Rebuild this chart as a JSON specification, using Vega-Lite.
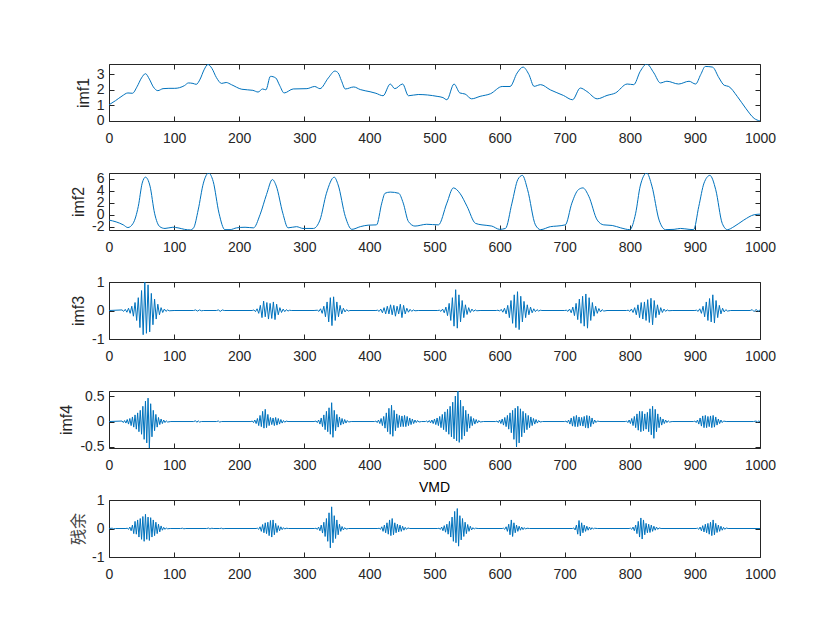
{
"$schema": "https://vega.github.io/schema/vega-lite/v6.json",
"background": "white",
"padding": {"left": 58, "top": 63, "right": 30, "bottom": 10},
"spacing": 52,
"bounds": "flush",
"datasets": {
"imf1": [
{"x":0,"y":1.03},{"x":10,"y":1.3},{"x":20,"y":1.6},{"x":29,"y":1.8},{"x":36,"y":1.78},{"x":43,"y":2.2},{"x":50,"y":2.78},{"x":56,"y":3.05},{"x":62,"y":2.7},{"x":68,"y":2.2},{"x":75,"y":1.95},{"x":83,"y":2.08},{"x":92,"y":2.1},{"x":101,"y":2.1},{"x":116,"y":2.28},{"x":122,"y":2.45},{"x":129,"y":2.42},{"x":134,"y":2.36},{"x":140,"y":2.7},{"x":146,"y":3.3},{"x":152,"y":3.65},{"x":158,"y":3.4},{"x":165,"y":2.8},{"x":173,"y":2.42},{"x":180,"y":2.48},{"x":188,"y":2.34},{"x":204,"y":2.04},{"x":221,"y":1.97},{"x":229,"y":1.86},{"x":236,"y":2.06},{"x":241,"y":2.0},{"x":248,"y":2.88},{"x":256,"y":2.78},{"x":262,"y":2.3},{"x":269,"y":1.8},{"x":283,"y":2.06},{"x":304,"y":2.08},{"x":316,"y":2.22},{"x":324,"y":2.08},{"x":337,"y":2.78},{"x":347,"y":3.22},{"x":352,"y":3.1},{"x":357,"y":2.6},{"x":363,"y":2.06},{"x":376,"y":2.19},{"x":386,"y":2.02},{"x":401,"y":1.88},{"x":410,"y":1.78},{"x":421,"y":1.62},{"x":432,"y":2.38},{"x":439,"y":2.08},{"x":451,"y":2.38},{"x":460,"y":1.62},{"x":475,"y":1.7},{"x":504,"y":1.58},{"x":513,"y":1.5},{"x":519,"y":1.36},{"x":530,"y":2.38},{"x":539,"y":1.8},{"x":547,"y":1.73},{"x":557,"y":1.42},{"x":570,"y":1.58},{"x":586,"y":1.75},{"x":604,"y":2.22},{"x":616,"y":2.22},{"x":627,"y":3.1},{"x":636,"y":3.48},{"x":645,"y":3.0},{"x":653,"y":2.23},{"x":663,"y":2.34},{"x":678,"y":2.0},{"x":698,"y":1.64},{"x":712,"y":1.36},{"x":724,"y":2.12},{"x":734,"y":1.9},{"x":750,"y":1.42},{"x":765,"y":1.64},{"x":778,"y":1.8},{"x":796,"y":2.38},{"x":806,"y":2.34},{"x":816,"y":3.2},{"x":826,"y":3.68},{"x":837,"y":3.1},{"x":847,"y":2.45},{"x":857,"y":2.56},{"x":875,"y":2.38},{"x":891,"y":2.56},{"x":901,"y":2.38},{"x":909,"y":3.0},{"x":916,"y":3.52},{"x":927,"y":3.48},{"x":937,"y":2.78},{"x":945,"y":2.3},{"x":952,"y":2.22},{"x":965,"y":1.58},{"x":978,"y":0.81},{"x":991,"y":0.15},{"x":1000,"y":-0.02}
],
"imf2": [
{"x":0,"y":-0.9},{"x":11,"y":-1.2},{"x":22,"y":-1.7},{"x":29,"y":-2.15},{"x":37,"y":-1.45},{"x":45,"y":1.4},{"x":51,"y":5.3},{"x":56,"y":6.3},{"x":63,"y":4.8},{"x":70,"y":0.25},{"x":78,"y":-2.0},{"x":86,"y":-2.3},{"x":98,"y":-2.1},{"x":106,"y":-2.2},{"x":116,"y":-2.45},{"x":125,"y":-2.55},{"x":130,"y":-2.2},{"x":137,"y":0.8},{"x":145,"y":5.3},{"x":153,"y":7.0},{"x":160,"y":5.6},{"x":169,"y":0.25},{"x":178,"y":-2.5},{"x":186,"y":-2.5},{"x":196,"y":-2.2},{"x":209,"y":-2.1},{"x":222,"y":-2.2},{"x":232,"y":0},{"x":242,"y":3.4},{"x":251,"y":5.9},{"x":257,"y":4.8},{"x":267,"y":0.25},{"x":275,"y":-2.2},{"x":288,"y":-2.0},{"x":298,"y":-2.3},{"x":314,"y":-2.3},{"x":324,"y":-0.9},{"x":334,"y":3.6},{"x":346,"y":6.3},{"x":352,"y":5.0},{"x":363,"y":-0.3},{"x":373,"y":-2.45},{"x":386,"y":-2.0},{"x":398,"y":-1.75},{"x":411,"y":-1.7},{"x":419,"y":1.95},{"x":424,"y":3.6},{"x":432,"y":3.8},{"x":445,"y":3.6},{"x":452,"y":1.95},{"x":460,"y":-1.15},{"x":470,"y":-1.9},{"x":488,"y":-1.6},{"x":506,"y":-1.7},{"x":519,"y":1.95},{"x":529,"y":4.5},{"x":539,"y":3.6},{"x":550,"y":1.4},{"x":563,"y":-1.45},{"x":573,"y":-1.7},{"x":588,"y":-1.9},{"x":600,"y":-2.45},{"x":609,"y":-2.3},{"x":619,"y":1.95},{"x":628,"y":5.9},{"x":635,"y":6.6},{"x":643,"y":4.2},{"x":655,"y":-1.7},{"x":663,"y":-2.5},{"x":678,"y":-2.0},{"x":688,"y":-1.9},{"x":701,"y":-1.7},{"x":711,"y":1.95},{"x":721,"y":4.2},{"x":728,"y":4.5},{"x":737,"y":3.1},{"x":750,"y":-0.9},{"x":760,"y":-1.7},{"x":773,"y":-1.8},{"x":786,"y":-2.2},{"x":800,"y":-2.5},{"x":809,"y":0.25},{"x":816,"y":4.8},{"x":826,"y":7.0},{"x":834,"y":4.8},{"x":845,"y":-0.9},{"x":855,"y":-2.5},{"x":868,"y":-2.45},{"x":878,"y":-2.3},{"x":891,"y":-2.45},{"x":898,"y":-2.5},{"x":906,"y":1.4},{"x":914,"y":5.3},{"x":923,"y":6.6},{"x":932,"y":4.2},{"x":942,"y":-1.45},{"x":950,"y":-2.5},{"x":960,"y":-2.0},{"x":975,"y":-0.9},{"x":991,"y":0},{"x":1000,"y":0.1}
],
"imf3": [
{"x":0,"y":0},{"x":20,"y":0.02},{"x":22.5,"y":-0.03},{"x":25,"y":0.04},{"x":27.5,"y":-0.06},{"x":30,"y":0.08},{"x":32.5,"y":-0.1},{"x":35,"y":0.15},{"x":37.5,"y":-0.2},{"x":40,"y":0.28},{"x":42.5,"y":-0.35},{"x":45,"y":0.45},{"x":47.5,"y":-0.6},{"x":50,"y":0.7},{"x":52.5,"y":-0.85},{"x":55,"y":1.0},{"x":57.5,"y":-0.8},{"x":60,"y":0.9},{"x":62.5,"y":-0.75},{"x":65,"y":0.6},{"x":67.5,"y":-0.5},{"x":70,"y":0.4},{"x":72.5,"y":-0.3},{"x":75,"y":0.22},{"x":77.5,"y":-0.15},{"x":80,"y":0.1},{"x":82.5,"y":-0.07},{"x":85,"y":0.05},{"x":87.5,"y":-0.03},{"x":90,"y":0.02},{"x":92.5,"y":-0.01},
{"x":100,"y":0},{"x":130,"y":0},{"x":133,"y":0.02},{"x":136,"y":-0.02},{"x":139,"y":0.02},{"x":142,"y":-0.01},{"x":145,"y":0},{"x":165,"y":0},{"x":168,"y":0.02},{"x":171,"y":-0.03},{"x":174,"y":0.02},{"x":177,"y":0},{"x":220,"y":0},
{"x":222.5,"y":0.02},{"x":225,"y":-0.04},{"x":227.5,"y":0.06},{"x":230,"y":-0.1},{"x":232.5,"y":0.18},{"x":235,"y":-0.25},{"x":237.5,"y":0.33},{"x":240,"y":-0.22},{"x":242.5,"y":0.28},{"x":245,"y":-0.3},{"x":247.5,"y":0.25},{"x":250,"y":-0.28},{"x":252.5,"y":0.3},{"x":255,"y":-0.32},{"x":257.5,"y":0.22},{"x":260,"y":-0.15},{"x":262.5,"y":0.1},{"x":265,"y":-0.07},{"x":267.5,"y":0.05},{"x":270,"y":-0.04},{"x":272.5,"y":0.03},{"x":275,"y":-0.02},{"x":277.5,"y":0.01},{"x":280,"y":0},
{"x":315,"y":0},{"x":320,"y":0.01},{"x":322.5,"y":-0.03},{"x":325,"y":0.06},{"x":327.5,"y":-0.1},{"x":330,"y":0.15},{"x":332.5,"y":-0.22},{"x":335,"y":0.3},{"x":337.5,"y":-0.4},{"x":340,"y":0.45},{"x":342.5,"y":-0.53},{"x":345,"y":0.48},{"x":347.5,"y":-0.35},{"x":350,"y":0.3},{"x":352.5,"y":-0.22},{"x":355,"y":0.18},{"x":357.5,"y":-0.12},{"x":360,"y":0.08},{"x":362.5,"y":-0.05},{"x":365,"y":0.03},{"x":367.5,"y":-0.02},{"x":370,"y":0},
{"x":410,"y":0},{"x":412.5,"y":0.01},{"x":415,"y":-0.03},{"x":417.5,"y":0.05},{"x":420,"y":-0.08},{"x":422.5,"y":0.1},{"x":425,"y":-0.12},{"x":427.5,"y":0.15},{"x":430,"y":-0.12},{"x":432.5,"y":0.2},{"x":435,"y":-0.15},{"x":437.5,"y":0.18},{"x":440,"y":-0.2},{"x":442.5,"y":0.15},{"x":445,"y":-0.12},{"x":447.5,"y":0.22},{"x":450,"y":-0.25},{"x":452.5,"y":0.18},{"x":455,"y":-0.12},{"x":457.5,"y":0.08},{"x":460,"y":-0.06},{"x":462.5,"y":0.04},{"x":465,"y":-0.03},{"x":467.5,"y":0.02},{"x":470,"y":-0.01},{"x":475,"y":0},
{"x":505,"y":0},{"x":507.5,"y":0.01},{"x":510,"y":-0.03},{"x":512.5,"y":0.05},{"x":515,"y":-0.08},{"x":517.5,"y":0.12},{"x":520,"y":-0.18},{"x":522.5,"y":0.25},{"x":525,"y":-0.35},{"x":527.5,"y":0.45},{"x":530,"y":-0.55},{"x":532.5,"y":0.73},{"x":535,"y":-0.62},{"x":537.5,"y":0.55},{"x":540,"y":-0.4},{"x":542.5,"y":0.35},{"x":545,"y":-0.25},{"x":547.5,"y":0.2},{"x":550,"y":-0.14},{"x":552.5,"y":0.1},{"x":555,"y":-0.07},{"x":557.5,"y":0.05},{"x":560,"y":-0.03},{"x":562.5,"y":0.02},{"x":565,"y":-0.01},{"x":570,"y":0},
{"x":595,"y":0},{"x":597.5,"y":0.01},{"x":600,"y":-0.02},{"x":602.5,"y":0.04},{"x":605,"y":-0.06},{"x":607.5,"y":0.08},{"x":610,"y":-0.12},{"x":612.5,"y":0.18},{"x":615,"y":-0.25},{"x":617.5,"y":0.35},{"x":620,"y":-0.45},{"x":622.5,"y":0.55},{"x":625,"y":-0.6},{"x":627.5,"y":0.66},{"x":630,"y":-0.67},{"x":632.5,"y":0.5},{"x":635,"y":-0.4},{"x":637.5,"y":0.32},{"x":640,"y":-0.25},{"x":642.5,"y":0.2},{"x":645,"y":-0.15},{"x":647.5,"y":0.12},{"x":650,"y":-0.08},{"x":652.5,"y":0.06},{"x":655,"y":-0.04},{"x":657.5,"y":0.03},{"x":660,"y":-0.02},{"x":662.5,"y":0.01},{"x":665,"y":0},
{"x":700,"y":0},{"x":702.5,"y":0.01},{"x":705,"y":-0.03},{"x":707.5,"y":0.05},{"x":710,"y":-0.08},{"x":712.5,"y":0.12},{"x":715,"y":-0.18},{"x":717.5,"y":0.25},{"x":720,"y":-0.32},{"x":722.5,"y":0.4},{"x":725,"y":-0.45},{"x":727.5,"y":0.5},{"x":730,"y":-0.55},{"x":732.5,"y":0.58},{"x":735,"y":-0.62},{"x":737.5,"y":0.45},{"x":740,"y":-0.35},{"x":742.5,"y":0.28},{"x":745,"y":-0.2},{"x":747.5,"y":0.15},{"x":750,"y":-0.1},{"x":752.5,"y":0.07},{"x":755,"y":-0.05},{"x":757.5,"y":0.03},{"x":760,"y":-0.02},{"x":765,"y":0},
{"x":795,"y":0},{"x":797.5,"y":0.01},{"x":800,"y":-0.03},{"x":802.5,"y":0.05},{"x":805,"y":-0.07},{"x":807.5,"y":0.1},{"x":810,"y":-0.15},{"x":812.5,"y":0.2},{"x":815,"y":-0.25},{"x":817.5,"y":0.28},{"x":820,"y":-0.3},{"x":822.5,"y":0.3},{"x":825,"y":-0.35},{"x":827.5,"y":0.38},{"x":830,"y":-0.42},{"x":832.5,"y":0.43},{"x":835,"y":-0.5},{"x":837.5,"y":0.35},{"x":840,"y":-0.25},{"x":842.5,"y":0.2},{"x":845,"y":-0.15},{"x":847.5,"y":0.1},{"x":850,"y":-0.07},{"x":852.5,"y":0.05},{"x":855,"y":-0.03},{"x":857.5,"y":0.02},{"x":860,"y":-0.01},{"x":865,"y":0},
{"x":900,"y":0},{"x":902.5,"y":0.01},{"x":905,"y":-0.03},{"x":907.5,"y":0.06},{"x":910,"y":-0.1},{"x":912.5,"y":0.15},{"x":915,"y":-0.22},{"x":917.5,"y":0.3},{"x":920,"y":-0.35},{"x":922.5,"y":0.42},{"x":925,"y":-0.4},{"x":927.5,"y":0.55},{"x":930,"y":-0.44},{"x":932.5,"y":0.35},{"x":935,"y":-0.25},{"x":937.5,"y":0.18},{"x":940,"y":-0.12},{"x":942.5,"y":0.08},{"x":945,"y":-0.05},{"x":947.5,"y":0.03},{"x":950,"y":-0.02},{"x":955,"y":0},
{"x":985,"y":0},{"x":988,"y":0.03},{"x":991,"y":-0.04},{"x":994,"y":0.04},{"x":997,"y":-0.03},{"x":1000,"y":0.02}
],
"imf4": [
{"x":0,"y":0},{"x":20,"y":0.01},{"x":22,"y":-0.02},{"x":24,"y":0.02},{"x":26,"y":-0.03},{"x":28,"y":0.04},{"x":30,"y":-0.05},{"x":32,"y":0.06},{"x":34,"y":-0.08},{"x":36,"y":0.09},{"x":38,"y":-0.11},{"x":40,"y":0.13},{"x":42,"y":-0.15},{"x":44,"y":0.17},{"x":46,"y":-0.2},{"x":48,"y":0.22},{"x":50,"y":-0.25},{"x":52,"y":0.3},{"x":54,"y":-0.35},{"x":56,"y":0.4},{"x":58,"y":-0.42},{"x":60,"y":0.46},{"x":62,"y":-0.53},{"x":64,"y":0.35},{"x":66,"y":-0.3},{"x":68,"y":0.22},{"x":70,"y":-0.18},{"x":72,"y":0.14},{"x":74,"y":-0.11},{"x":76,"y":0.08},{"x":78,"y":-0.06},{"x":80,"y":0.05},{"x":82,"y":-0.04},{"x":84,"y":0.03},{"x":86,"y":-0.02},{"x":88,"y":0.015},{"x":90,"y":-0.01},{"x":95,"y":0},
{"x":130,"y":0},{"x":133,"y":0.015},{"x":135,"y":-0.015},{"x":137,"y":0.015},{"x":139,"y":-0.01},{"x":142,"y":0},{"x":165,"y":0},{"x":168,"y":0.01},{"x":170,"y":-0.01},{"x":173,"y":0},{"x":218,"y":0},
{"x":220,"y":0.01},{"x":222,"y":-0.02},{"x":224,"y":0.03},{"x":226,"y":-0.04},{"x":228,"y":0.06},{"x":230,"y":-0.08},{"x":232,"y":0.12},{"x":234,"y":-0.1},{"x":236,"y":0.2},{"x":238,"y":-0.13},{"x":240,"y":0.24},{"x":242,"y":-0.12},{"x":244,"y":0.14},{"x":246,"y":-0.08},{"x":248,"y":0.08},{"x":250,"y":-0.06},{"x":252,"y":0.07},{"x":254,"y":-0.08},{"x":256,"y":0.08},{"x":258,"y":-0.07},{"x":260,"y":0.06},{"x":262,"y":-0.05},{"x":264,"y":0.04},{"x":266,"y":-0.03},{"x":268,"y":0.02},{"x":270,"y":-0.015},{"x":272,"y":0.01},{"x":275,"y":0},
{"x":315,"y":0},{"x":318,"y":0.01},{"x":320,"y":-0.02},{"x":322,"y":0.03},{"x":324,"y":-0.05},{"x":326,"y":0.07},{"x":328,"y":-0.1},{"x":330,"y":0.13},{"x":332,"y":-0.16},{"x":334,"y":0.2},{"x":336,"y":-0.2},{"x":338,"y":0.27},{"x":340,"y":-0.25},{"x":342,"y":0.37},{"x":344,"y":-0.31},{"x":346,"y":0.22},{"x":348,"y":-0.18},{"x":350,"y":0.14},{"x":352,"y":-0.11},{"x":354,"y":0.09},{"x":356,"y":-0.07},{"x":358,"y":0.06},{"x":360,"y":-0.05},{"x":362,"y":0.04},{"x":364,"y":-0.03},{"x":366,"y":0.02},{"x":368,"y":-0.01},{"x":372,"y":0},
{"x":408,"y":0},{"x":410,"y":0.01},{"x":412,"y":-0.02},{"x":414,"y":0.03},{"x":416,"y":-0.04},{"x":418,"y":0.06},{"x":420,"y":-0.08},{"x":422,"y":0.1},{"x":424,"y":-0.13},{"x":426,"y":0.17},{"x":428,"y":-0.2},{"x":430,"y":0.26},{"x":432,"y":-0.25},{"x":434,"y":0.32},{"x":436,"y":-0.29},{"x":438,"y":0.22},{"x":440,"y":-0.18},{"x":442,"y":0.15},{"x":444,"y":-0.12},{"x":446,"y":0.12},{"x":448,"y":-0.1},{"x":450,"y":0.11},{"x":452,"y":-0.1},{"x":454,"y":0.12},{"x":456,"y":-0.1},{"x":458,"y":0.1},{"x":460,"y":-0.08},{"x":462,"y":0.07},{"x":464,"y":-0.06},{"x":466,"y":0.05},{"x":468,"y":-0.04},{"x":470,"y":0.03},{"x":472,"y":-0.02},{"x":474,"y":0.02},{"x":476,"y":-0.01},{"x":480,"y":0},
{"x":486,"y":0},{"x":488,"y":0.01},{"x":490,"y":-0.015},{"x":492,"y":0.02},{"x":494,"y":-0.025},{"x":496,"y":0.03},{"x":498,"y":-0.04},{"x":500,"y":0.05},{"x":502,"y":-0.06},{"x":504,"y":0.07},{"x":506,"y":-0.08},{"x":508,"y":0.1},{"x":510,"y":-0.12},{"x":512,"y":0.14},{"x":514,"y":-0.16},{"x":516,"y":0.19},{"x":518,"y":-0.2},{"x":520,"y":0.24},{"x":522,"y":-0.25},{"x":524,"y":0.3},{"x":526,"y":-0.3},{"x":528,"y":0.38},{"x":530,"y":-0.34},{"x":532,"y":0.5},{"x":534,"y":-0.38},{"x":536,"y":0.6},{"x":538,"y":-0.41},{"x":540,"y":0.42},{"x":542,"y":-0.35},{"x":544,"y":0.3},{"x":546,"y":-0.28},{"x":548,"y":0.22},{"x":550,"y":-0.2},{"x":552,"y":0.15},{"x":554,"y":-0.13},{"x":556,"y":0.1},{"x":558,"y":-0.08},{"x":560,"y":0.06},{"x":562,"y":-0.05},{"x":564,"y":0.04},{"x":566,"y":-0.03},{"x":568,"y":0.02},{"x":570,"y":-0.01},{"x":575,"y":0},
{"x":594,"y":0},{"x":596,"y":0.01},{"x":598,"y":-0.02},{"x":600,"y":0.03},{"x":602,"y":-0.04},{"x":604,"y":0.05},{"x":606,"y":-0.07},{"x":608,"y":0.08},{"x":610,"y":-0.1},{"x":612,"y":0.12},{"x":614,"y":-0.15},{"x":616,"y":0.17},{"x":618,"y":-0.22},{"x":620,"y":0.22},{"x":622,"y":-0.35},{"x":624,"y":0.26},{"x":626,"y":-0.5},{"x":628,"y":0.3},{"x":630,"y":-0.42},{"x":632,"y":0.25},{"x":634,"y":-0.3},{"x":636,"y":0.2},{"x":638,"y":-0.22},{"x":640,"y":0.16},{"x":642,"y":-0.16},{"x":644,"y":0.12},{"x":646,"y":-0.12},{"x":648,"y":0.09},{"x":650,"y":-0.08},{"x":652,"y":0.06},{"x":654,"y":-0.05},{"x":656,"y":0.04},{"x":658,"y":-0.03},{"x":660,"y":0.02},{"x":662,"y":-0.01},{"x":666,"y":0},
{"x":700,"y":0},{"x":702,"y":0.01},{"x":704,"y":-0.02},{"x":706,"y":0.03},{"x":708,"y":-0.05},{"x":710,"y":0.07},{"x":712,"y":-0.09},{"x":714,"y":0.1},{"x":716,"y":-0.1},{"x":718,"y":0.12},{"x":720,"y":-0.1},{"x":722,"y":0.09},{"x":724,"y":-0.08},{"x":726,"y":0.08},{"x":728,"y":-0.09},{"x":730,"y":0.1},{"x":732,"y":-0.12},{"x":734,"y":0.12},{"x":736,"y":-0.13},{"x":738,"y":0.11},{"x":740,"y":-0.1},{"x":742,"y":0.07},{"x":744,"y":-0.05},{"x":746,"y":0.03},{"x":748,"y":-0.02},{"x":750,"y":0.01},{"x":754,"y":0},
{"x":793,"y":0},{"x":795,"y":0.01},{"x":797,"y":-0.02},{"x":799,"y":0.03},{"x":801,"y":-0.04},{"x":803,"y":0.06},{"x":805,"y":-0.08},{"x":807,"y":0.1},{"x":809,"y":-0.12},{"x":811,"y":0.15},{"x":813,"y":-0.17},{"x":815,"y":0.2},{"x":817,"y":-0.2},{"x":819,"y":0.2},{"x":821,"y":-0.18},{"x":823,"y":0.15},{"x":825,"y":-0.15},{"x":827,"y":0.18},{"x":829,"y":-0.2},{"x":831,"y":0.25},{"x":833,"y":-0.26},{"x":835,"y":0.3},{"x":837,"y":-0.33},{"x":839,"y":0.24},{"x":841,"y":-0.2},{"x":843,"y":0.15},{"x":845,"y":-0.12},{"x":847,"y":0.09},{"x":849,"y":-0.07},{"x":851,"y":0.05},{"x":853,"y":-0.04},{"x":855,"y":0.03},{"x":857,"y":-0.02},{"x":859,"y":0.015},{"x":861,"y":-0.01},{"x":865,"y":0},
{"x":898,"y":0},{"x":900,"y":0.01},{"x":902,"y":-0.02},{"x":904,"y":0.03},{"x":906,"y":-0.05},{"x":908,"y":0.07},{"x":910,"y":-0.09},{"x":912,"y":0.11},{"x":914,"y":-0.12},{"x":916,"y":0.12},{"x":918,"y":-0.12},{"x":920,"y":0.1},{"x":922,"y":-0.1},{"x":924,"y":0.11},{"x":926,"y":-0.12},{"x":928,"y":0.12},{"x":930,"y":-0.11},{"x":932,"y":0.09},{"x":934,"y":-0.07},{"x":936,"y":0.05},{"x":938,"y":-0.04},{"x":940,"y":0.03},{"x":942,"y":-0.02},{"x":944,"y":0.01},{"x":948,"y":0},
{"x":990,"y":0},{"x":994,"y":0.01},{"x":996,"y":-0.01},{"x":998,"y":0.01},{"x":1000,"y":0}
],
"resid": [
{"x":0,"y":0},{"x":5,"y":0.01},{"x":7,"y":-0.01},{"x":10,"y":0},{"x":26,"y":0},{"x":28,"y":0.01},{"x":30,"y":-0.03},{"x":32,"y":0.05},{"x":34,"y":-0.08},{"x":36,"y":0.12},{"x":38,"y":-0.18},{"x":40,"y":0.25},{"x":42,"y":-0.2},{"x":44,"y":0.3},{"x":46,"y":-0.3},{"x":48,"y":0.35},{"x":50,"y":-0.38},{"x":52,"y":0.42},{"x":54,"y":-0.45},{"x":56,"y":0.5},{"x":58,"y":-0.38},{"x":60,"y":0.4},{"x":62,"y":-0.42},{"x":64,"y":0.38},{"x":66,"y":-0.3},{"x":68,"y":0.3},{"x":70,"y":-0.25},{"x":72,"y":0.22},{"x":74,"y":-0.18},{"x":76,"y":0.15},{"x":78,"y":-0.12},{"x":80,"y":0.09},{"x":82,"y":-0.06},{"x":84,"y":0.04},{"x":86,"y":-0.03},{"x":88,"y":0.02},{"x":90,"y":-0.01},{"x":94,"y":0},
{"x":110,"y":0},{"x":113,"y":0.01},{"x":115,"y":-0.01},{"x":118,"y":0},{"x":150,"y":0},{"x":153,"y":0.015},{"x":155,"y":-0.015},{"x":158,"y":0.01},{"x":160,"y":0},{"x":170,"y":0},{"x":173,"y":0.01},{"x":175,"y":-0.01},{"x":178,"y":0},{"x":226,"y":0},
{"x":228,"y":0.01},{"x":230,"y":-0.03},{"x":232,"y":0.06},{"x":234,"y":-0.1},{"x":236,"y":0.14},{"x":238,"y":-0.15},{"x":240,"y":0.2},{"x":242,"y":-0.18},{"x":244,"y":0.22},{"x":246,"y":-0.25},{"x":248,"y":0.28},{"x":250,"y":-0.3},{"x":252,"y":0.3},{"x":254,"y":-0.22},{"x":256,"y":0.18},{"x":258,"y":-0.14},{"x":260,"y":0.1},{"x":262,"y":-0.08},{"x":264,"y":0.06},{"x":266,"y":-0.04},{"x":268,"y":0.03},{"x":270,"y":-0.02},{"x":272,"y":0.01},{"x":276,"y":0},
{"x":316,"y":0},{"x":318,"y":0.01},{"x":320,"y":-0.03},{"x":322,"y":0.05},{"x":324,"y":-0.08},{"x":326,"y":0.12},{"x":328,"y":-0.16},{"x":330,"y":0.22},{"x":332,"y":-0.28},{"x":334,"y":0.35},{"x":336,"y":-0.45},{"x":338,"y":0.55},{"x":340,"y":-0.68},{"x":342,"y":0.76},{"x":344,"y":-0.5},{"x":346,"y":0.45},{"x":348,"y":-0.35},{"x":350,"y":0.3},{"x":352,"y":-0.22},{"x":354,"y":0.15},{"x":356,"y":-0.1},{"x":358,"y":0.07},{"x":360,"y":-0.05},{"x":362,"y":0.03},{"x":364,"y":-0.02},{"x":368,"y":0},
{"x":413,"y":0},{"x":415,"y":0.01},{"x":417,"y":-0.03},{"x":419,"y":0.06},{"x":421,"y":-0.1},{"x":423,"y":0.12},{"x":425,"y":-0.15},{"x":427,"y":0.2},{"x":429,"y":-0.2},{"x":431,"y":0.3},{"x":433,"y":-0.25},{"x":435,"y":0.35},{"x":437,"y":-0.22},{"x":439,"y":0.2},{"x":441,"y":-0.15},{"x":443,"y":0.15},{"x":445,"y":-0.12},{"x":447,"y":0.12},{"x":449,"y":-0.1},{"x":451,"y":0.08},{"x":453,"y":-0.06},{"x":455,"y":0.04},{"x":457,"y":-0.03},{"x":459,"y":0.02},{"x":462,"y":0},
{"x":505,"y":0},{"x":507,"y":0.01},{"x":509,"y":-0.03},{"x":511,"y":0.05},{"x":513,"y":-0.08},{"x":515,"y":0.1},{"x":517,"y":-0.13},{"x":519,"y":0.15},{"x":521,"y":-0.2},{"x":523,"y":0.25},{"x":525,"y":-0.3},{"x":527,"y":0.4},{"x":529,"y":-0.45},{"x":531,"y":0.6},{"x":533,"y":-0.5},{"x":535,"y":0.7},{"x":537,"y":-0.62},{"x":539,"y":0.45},{"x":541,"y":-0.4},{"x":543,"y":0.35},{"x":545,"y":-0.28},{"x":547,"y":0.22},{"x":549,"y":-0.18},{"x":551,"y":0.14},{"x":553,"y":-0.1},{"x":555,"y":0.08},{"x":557,"y":-0.05},{"x":559,"y":0.03},{"x":561,"y":-0.02},{"x":563,"y":0.01},{"x":567,"y":0},
{"x":604,"y":0},{"x":606,"y":0.01},{"x":608,"y":-0.03},{"x":610,"y":0.06},{"x":612,"y":-0.1},{"x":614,"y":0.15},{"x":616,"y":-0.22},{"x":618,"y":0.3},{"x":620,"y":-0.28},{"x":622,"y":0.2},{"x":624,"y":-0.15},{"x":626,"y":0.12},{"x":628,"y":-0.1},{"x":630,"y":0.08},{"x":632,"y":-0.06},{"x":634,"y":0.05},{"x":636,"y":-0.04},{"x":638,"y":0.03},{"x":640,"y":-0.02},{"x":642,"y":0.01},{"x":646,"y":0},
{"x":712,"y":0},{"x":714,"y":0.02},{"x":716,"y":-0.05},{"x":718,"y":0.12},{"x":720,"y":-0.2},{"x":722,"y":0.28},{"x":724,"y":-0.26},{"x":726,"y":0.2},{"x":728,"y":-0.15},{"x":730,"y":0.12},{"x":732,"y":-0.1},{"x":734,"y":0.08},{"x":736,"y":-0.06},{"x":738,"y":0.05},{"x":740,"y":-0.04},{"x":742,"y":0.03},{"x":744,"y":-0.02},{"x":746,"y":0.01},{"x":750,"y":0},
{"x":799,"y":0},{"x":801,"y":0.01},{"x":803,"y":-0.03},{"x":805,"y":0.05},{"x":807,"y":-0.08},{"x":809,"y":0.12},{"x":811,"y":-0.18},{"x":813,"y":0.25},{"x":815,"y":-0.3},{"x":817,"y":0.37},{"x":819,"y":-0.37},{"x":821,"y":0.3},{"x":823,"y":-0.22},{"x":825,"y":0.18},{"x":827,"y":-0.15},{"x":829,"y":0.15},{"x":831,"y":-0.14},{"x":833,"y":0.12},{"x":835,"y":-0.1},{"x":837,"y":0.08},{"x":839,"y":-0.06},{"x":841,"y":0.05},{"x":843,"y":-0.03},{"x":845,"y":0.02},{"x":848,"y":0},
{"x":902,"y":0},{"x":904,"y":0.01},{"x":906,"y":-0.03},{"x":908,"y":0.05},{"x":910,"y":-0.08},{"x":912,"y":0.1},{"x":914,"y":-0.12},{"x":916,"y":0.15},{"x":918,"y":-0.15},{"x":920,"y":0.18},{"x":922,"y":-0.2},{"x":924,"y":0.22},{"x":926,"y":-0.25},{"x":928,"y":0.3},{"x":930,"y":-0.22},{"x":932,"y":0.18},{"x":934,"y":-0.14},{"x":936,"y":0.12},{"x":938,"y":-0.1},{"x":940,"y":0.08},{"x":942,"y":-0.06},{"x":944,"y":0.04},{"x":946,"y":-0.03},{"x":948,"y":0.02},{"x":951,"y":0},
{"x":1000,"y":0}
]
},
"vconcat": [
{
"width": 651, "height": 57,
"data": {"name": "imf1"},
"layer": [
{"mark": {"type": "line", "color": "#0072BD", "strokeWidth": 1, "clip": true, "interpolate": "monotone"},
"encoding": {
"x": {"field": "x", "type": "quantitative", "scale": {"domain": [0, 1000], "nice": false}, "axis": {"title": null, "values": [0,100,200,300,400,500,600,700,800,900,1000], "labelExpr": "'' + datum.value"}},
"y": {"field": "y", "type": "quantitative", "scale": {"domain": [-0.02, 3.68], "nice": false, "zero": false}, "axis": {"title": "imf1", "values": [0,1,2,3], "labelExpr": "'' + datum.value"}}}},
{"mark": {"type": "line", "strokeOpacity": 0},
"encoding": {
"x": {"field": "x", "type": "quantitative", "axis": {"orient": "top", "labels": false, "title": null, "values": [0,100,200,300,400,500,600,700,800,900,1000]}},
"y": {"field": "y", "type": "quantitative", "axis": {"orient": "right", "labels": false, "title": null, "values": [0,1,2,3]}}}}
],
"resolve": {"axis": {"x": "independent", "y": "independent"}}
},
{
"width": 651, "height": 57,
"data": {"name": "imf2"},
"layer": [
{"mark": {"type": "line", "color": "#0072BD", "strokeWidth": 1, "clip": true, "interpolate": "monotone"},
"encoding": {
"x": {"field": "x", "type": "quantitative", "scale": {"domain": [0, 1000], "nice": false}, "axis": {"title": null, "values": [0,100,200,300,400,500,600,700,800,900,1000], "labelExpr": "'' + datum.value"}},
"y": {"field": "y", "type": "quantitative", "scale": {"domain": [-2.56, 7.0], "nice": false, "zero": false}, "axis": {"title": "imf2", "values": [-2,0,2,4,6], "labelExpr": "'' + datum.value"}}}},
{"mark": {"type": "line", "strokeOpacity": 0},
"encoding": {
"x": {"field": "x", "type": "quantitative", "axis": {"orient": "top", "labels": false, "title": null, "values": [0,100,200,300,400,500,600,700,800,900,1000]}},
"y": {"field": "y", "type": "quantitative", "axis": {"orient": "right", "labels": false, "title": null, "values": [-2,0,2,4,6]}}}}
],
"resolve": {"axis": {"x": "independent", "y": "independent"}}
},
{
"width": 651, "height": 57,
"data": {"name": "imf3"},
"layer": [
{"mark": {"type": "line", "color": "#0072BD", "strokeWidth": 1, "clip": true},
"encoding": {
"x": {"field": "x", "type": "quantitative", "scale": {"domain": [0, 1000], "nice": false}, "axis": {"title": null, "values": [0,100,200,300,400,500,600,700,800,900,1000], "labelExpr": "'' + datum.value"}},
"y": {"field": "y", "type": "quantitative", "scale": {"domain": [-1, 1], "nice": false, "zero": false}, "axis": {"title": "imf3", "values": [-1,0,1], "labelExpr": "'' + datum.value"}}}},
{"mark": {"type": "line", "strokeOpacity": 0},
"encoding": {
"x": {"field": "x", "type": "quantitative", "axis": {"orient": "top", "labels": false, "title": null, "values": [0,100,200,300,400,500,600,700,800,900,1000]}},
"y": {"field": "y", "type": "quantitative", "axis": {"orient": "right", "labels": false, "title": null, "values": [-1,0,1]}}}}
],
"resolve": {"axis": {"x": "independent", "y": "independent"}}
},
{
"width": 651, "height": 57,
"data": {"name": "imf4"},
"layer": [
{"mark": {"type": "line", "color": "#0072BD", "strokeWidth": 1, "clip": true},
"encoding": {
"x": {"field": "x", "type": "quantitative", "scale": {"domain": [0, 1000], "nice": false}, "axis": {"title": null, "values": [0,100,200,300,400,500,600,700,800,900,1000], "labelExpr": "'' + datum.value"}},
"y": {"field": "y", "type": "quantitative", "scale": {"domain": [-0.52, 0.6], "nice": false, "zero": false}, "axis": {"title": "imf4", "values": [-0.5,0,0.5], "labelExpr": "'' + datum.value"}}}},
{"mark": {"type": "line", "strokeOpacity": 0},
"encoding": {
"x": {"field": "x", "type": "quantitative", "axis": {"orient": "top", "labels": false, "title": null, "values": [0,100,200,300,400,500,600,700,800,900,1000]}},
"y": {"field": "y", "type": "quantitative", "axis": {"orient": "right", "labels": false, "title": null, "values": [-0.5,0,0.5]}}}}
],
"resolve": {"axis": {"x": "independent", "y": "independent"}}
},
{
"width": 651, "height": 57,
"data": {"name": "resid"},
"title": {"text": "VMD", "font": "Liberation Sans", "fontSize": 14, "fontWeight": "normal", "color": "#000000", "anchor": "middle", "baseline": "alphabetic", "offset": -13},
"layer": [
{"mark": {"type": "line", "color": "#0072BD", "strokeWidth": 1, "clip": true},
"encoding": {
"x": {"field": "x", "type": "quantitative", "scale": {"domain": [0, 1000], "nice": false}, "axis": {"title": null, "values": [0,100,200,300,400,500,600,700,800,900,1000], "labelExpr": "'' + datum.value"}},
"y": {"field": "y", "type": "quantitative", "scale": {"domain": [-1, 1], "nice": false, "zero": false}, "axis": {"title": "残余", "titleFont": "Noto Sans CJK SC", "titleColor": "#444444", "values": [-1,0,1], "labelExpr": "'' + datum.value"}}}},
{"mark": {"type": "line", "strokeOpacity": 0},
"encoding": {
"x": {"field": "x", "type": "quantitative", "axis": {"orient": "top", "labels": false, "title": null, "values": [0,100,200,300,400,500,600,700,800,900,1000]}},
"y": {"field": "y", "type": "quantitative", "axis": {"orient": "right", "labels": false, "title": null, "values": [-1,0,1]}}}}
],
"resolve": {"axis": {"x": "independent", "y": "independent"}}
}
],
"config": {
"view": {"stroke": "#262626", "strokeWidth": 1},
"axis": {"grid": false, "domain": false, "ticks": true, "tickSize": -5, "tickColor": "#262626", "tickWidth": 1, "labelFont": "Liberation Sans", "labelFontSize": 14, "labelColor": "#262626", "labelOverlap": false, "labelFlush": false, "labelBound": false, "titleFont": "Liberation Sans", "titleFontSize": 16, "titleFontWeight": "normal", "titleColor": "#262626"},
"axisBottom": {"labelPadding": 15},
"axisLeft": {"labelPadding": 10, "titlePadding": 5}
}
}
